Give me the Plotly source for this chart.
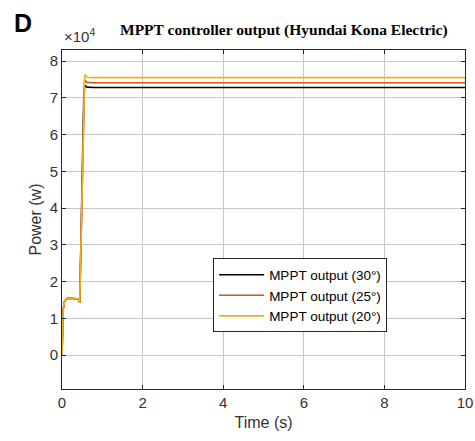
import plotly.graph_objects as go

# time (s)
t = [0, 0.01, 0.03, 0.06, 0.1, 0.15, 0.25, 0.35, 0.42, 0.44, 0.46, 0.5, 0.54, 0.56, 0.58, 0.62, 0.8, 1.5, 3, 5, 7, 9, 10]
# power (x10^4 W)
p30 = [0, 0.8, 1.25, 1.45, 1.52, 1.55, 1.55, 1.55, 1.53, 1.42, 2.6, 5.0, 7.0, 7.3, 7.33, 7.29, 7.28, 7.28, 7.28, 7.28, 7.28, 7.28, 7.28]
p25 = [0, 0.8, 1.25, 1.45, 1.52, 1.55, 1.55, 1.55, 1.53, 1.42, 2.6, 5.0, 7.1, 7.45, 7.47, 7.42, 7.41, 7.41, 7.41, 7.41, 7.41, 7.41, 7.41]
p20 = [0, 0.8, 1.25, 1.45, 1.52, 1.55, 1.55, 1.55, 1.53, 1.42, 2.6, 5.0, 7.2, 7.58, 7.62, 7.56, 7.55, 7.55, 7.55, 7.55, 7.55, 7.55, 7.55]
names = ["MPPT output (30°)", "MPPT output (25°)", "MPPT output (20°)"]
colors = ["#000000", "#D95319", "#EDB120"]
x_ticks = [0, 2, 4, 6, 8, 10]
y_ticks = [0, 1, 2, 3, 4, 5, 6, 7, 8]

fig = go.Figure()
for ys, n, c in zip([p30, p25, p20], names, colors):
    fig.add_trace(go.Scatter(x=t, y=ys, mode="lines", name=n,
                             line=dict(color=c, width=1.6)))

axis_common = dict(showline=True, linecolor="#262626", linewidth=1, mirror="ticks",
                   ticks="inside", ticklen=4, tickcolor="#262626", automargin=False,
                   showgrid=True, gridcolor="#C8C8C8", gridwidth=1, zeroline=False,
                   tickfont=dict(family="Liberation Sans, Arial", size=15, color="#333333"))

fig.update_layout(
    width=475, height=441,
    margin=dict(l=62, r=10, t=50, b=52),
    paper_bgcolor="white", plot_bgcolor="white",
    xaxis=dict(range=[0, 10], tickvals=x_ticks, **axis_common,
               title=dict(text="Time (s)", font=dict(family="Liberation Sans, Arial", size=16, color="#333333"), standoff=6)),
    yaxis=dict(range=[-0.92, 8.3], tickvals=y_ticks, **axis_common,
               title=dict(text="Power (w)", font=dict(family="Liberation Sans, Arial", size=16, color="#333333"), standoff=4)),
    legend=dict(x=0.375, y=0.385, xanchor="left", yanchor="top",
                bgcolor="white", bordercolor="#262626", borderwidth=1,
                font=dict(family="Liberation Sans, Arial", size=13.5, color="#000000"),
                tracegroupgap=0, itemwidth=45),
    showlegend=True,
)

fig.add_annotation(text="<b>MPPT controller output (Hyundai Kona Electric)</b>",
                   xref="paper", yref="paper", x=0.55, y=1.0, yshift=20,
                   xanchor="center", yanchor="middle", showarrow=False,
                   font=dict(family="Liberation Serif, Times New Roman", size=15.5, color="#000000"))
fig.add_annotation(text="×10<sup>4</sup>", xref="paper", yref="paper", x=0.0, y=1.0, yshift=15,
                   xanchor="left", yanchor="middle", showarrow=False,
                   font=dict(family="Liberation Sans, Arial", size=15, color="#333333"))
fig.add_annotation(text="<b>D</b>", xref="paper", yref="paper", x=-0.125, y=1.0, yshift=27,
                   xanchor="left", yanchor="middle", showarrow=False,
                   font=dict(family="Liberation Sans, Arial", size=25, color="#000000"))

fig.write_html("out.html")
